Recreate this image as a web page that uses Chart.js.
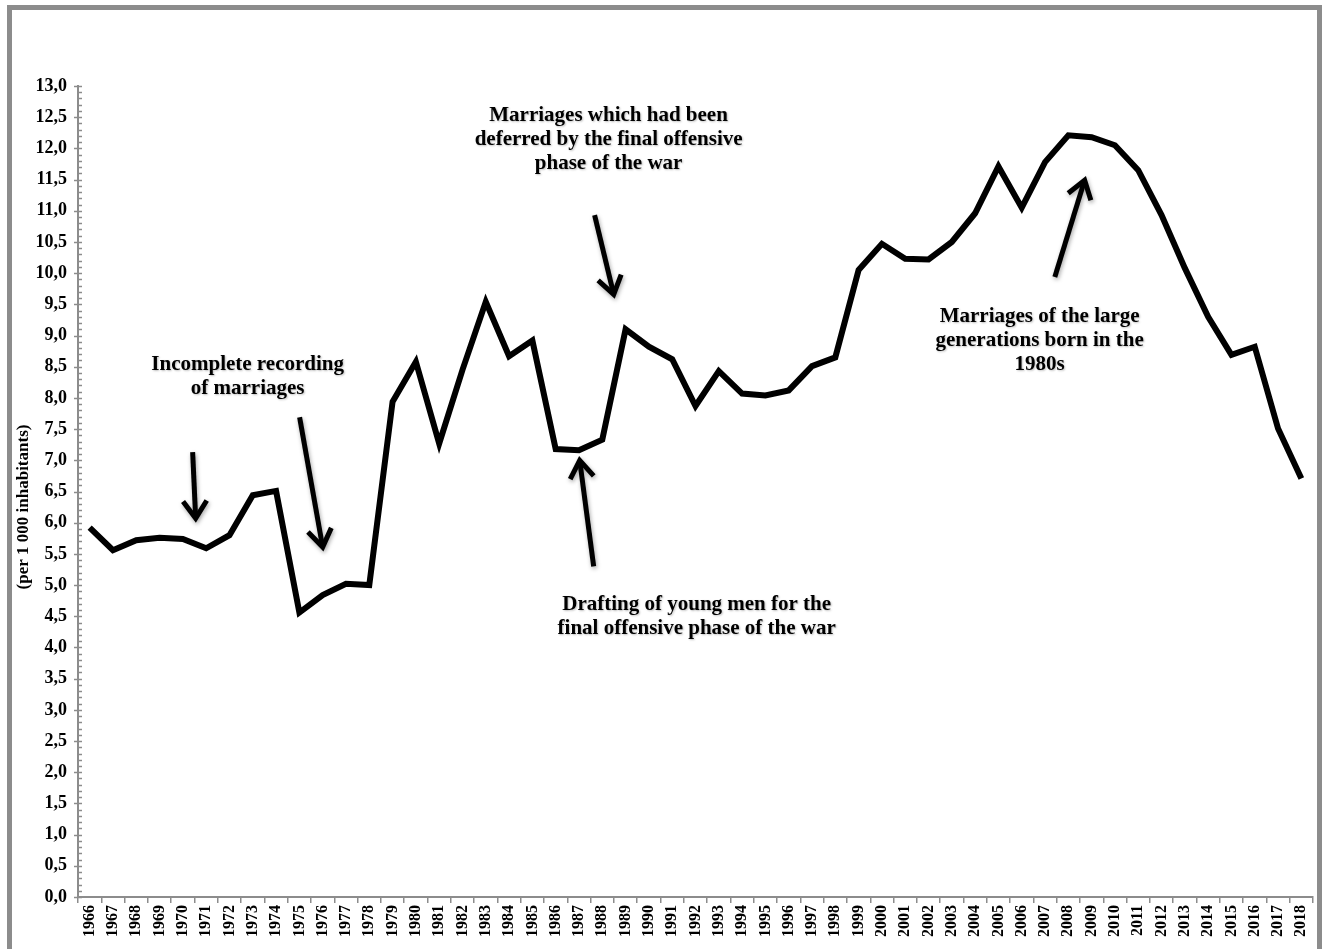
<!DOCTYPE html>
<html>
<head>
<meta charset="utf-8">
<script src="https://cdn.jsdelivr.net/npm/chart.js@4.4.0/dist/chart.umd.min.js"></script>
<style>
    body { margin: 0; background: #fff; overflow: hidden; }
    #wrap { position: relative; width: 1328px; height: 949px; overflow: hidden; }
    #frame { position: absolute; left: 7px; top: 5px; width: 1315px; height: 1000px;
             border: 5px solid #8c8c8c; box-sizing: border-box; }
    #chart { position: absolute; left: 0; top: 0; }
</style>
</head>
<body>
<div id="wrap">
    <div id="frame"></div>
    <canvas id="chart" width="1328" height="949"></canvas>
</div>
<script>
// Crude marriage rate, per 1 000 inhabitants
const years = ['1966', '1967', '1968', '1969', '1970', '1971', '1972', '1973', '1974', '1975',
    '1976', '1977', '1978', '1979', '1980', '1981', '1982', '1983', '1984', '1985',
    '1986', '1987', '1988', '1989', '1990', '1991', '1992', '1993', '1994', '1995',
    '1996', '1997', '1998', '1999', '2000', '2001', '2002', '2003', '2004', '2005',
    '2006', '2007', '2008', '2009', '2010', '2011', '2012', '2013', '2014', '2015',
    '2016', '2017', '2018'];
const rates = [5.92, 5.56, 5.72, 5.76, 5.74, 5.59, 5.80, 6.44, 6.51, 4.56,
    4.84, 5.02, 5.00, 7.94, 8.58, 7.27, 8.45, 9.54, 8.67, 8.92,
    7.18, 7.16, 7.33, 9.10, 8.82, 8.62, 7.87, 8.43, 8.07, 8.04,
    8.12, 8.51, 8.65, 10.05, 10.47, 10.23, 10.22, 10.50, 10.96, 11.71,
    11.05, 11.78, 12.21, 12.18, 12.05, 11.65, 10.93, 10.08, 9.30, 8.69,
    8.82, 7.51, 6.71];
const yAxisTitle = '(per 1 000 inhabitants)';

// notes: x in category index units, y in rate units
const notes = [
    { lines: ['Incomplete recording', 'of marriages'], x: 6.78, y: 8.54 },
    { lines: ['Marriages which had been', 'deferred by the final offensive', 'phase of the war'], x: 22.27, y: 12.52 },
    { lines: ['Drafting of young men for the', 'final offensive phase of the war'], x: 26.05, y: 4.68 },
    { lines: ['Marriages of the large', 'generations born in the', '1980s'], x: 40.77, y: 9.31 }
];
const arrows = [
    { from: [4.42, 7.13], to: [4.55, 6.07] },
    { from: [9.01, 7.69], to: [10.0, 5.61] },
    { from: [21.63, 5.30], to: [21.03, 7.00] },
    { from: [21.67, 10.93], to: [22.49, 9.66] },
    { from: [41.42, 9.94], to: [42.70, 11.49] }
];

const serif = '"Liberation Serif", "Times New Roman", serif';
const axisGrey = '#8c8c8c';

const extras = {
    id: 'extras',
    afterDraw(chart) {
        const ctx = chart.ctx;
        const xs = chart.scales.x, ys = chart.scales.y;
        const ax = xs.left;
        ctx.save();
        // y ticks: major cross the axis, minor on the inside
        ctx.strokeStyle = axisGrey;
        ctx.lineWidth = 1.5;
        for (let i = 0; i <= 130; i++) {
            const py = Math.round(ys.getPixelForValue(i / 10)) + 0.5;
            ctx.beginPath();
            if (i % 5 === 0) { ctx.moveTo(ax - 4, py); ctx.lineTo(ax + 4, py); }
            else { ctx.moveTo(ax, py); ctx.lineTo(ax + 4, py); }
            ctx.stroke();
        }
        // y title
        ctx.fillStyle = '#000';
        ctx.font = 'bold 17px ' + serif;
        ctx.textAlign = 'center';
        ctx.textBaseline = 'middle';
        ctx.save();
        ctx.translate(24, 507);
        ctx.rotate(-Math.PI / 2);
        ctx.fillText(yAxisTitle, 0, 0);
        ctx.restore();
        // arrows
        ctx.strokeStyle = '#000';
        ctx.lineWidth = 5;
        ctx.lineCap = 'butt';
        ctx.lineJoin = 'miter';
        ctx.shadowColor = 'rgba(0,0,0,0.35)';
        ctx.shadowBlur = 4;
        ctx.shadowOffsetX = 1;
        ctx.shadowOffsetY = 2;
        arrows.forEach(a => {
            const x1 = xs.getPixelForValue(a.from[0]), y1 = ys.getPixelForValue(a.from[1]);
            const x2 = xs.getPixelForValue(a.to[0]), y2 = ys.getPixelForValue(a.to[1]);
            const ang = Math.atan2(y2 - y1, x2 - x1);
            const hl = 21, spread = 0.6;
            ctx.beginPath();
            ctx.moveTo(x1, y1);
            ctx.lineTo(x2 - Math.cos(ang) * 3, y2 - Math.sin(ang) * 3);
            ctx.stroke();
            ctx.beginPath();
            ctx.moveTo(x2 - hl * Math.cos(ang - spread), y2 - hl * Math.sin(ang - spread));
            ctx.lineTo(x2, y2);
            ctx.lineTo(x2 - hl * Math.cos(ang + spread), y2 - hl * Math.sin(ang + spread));
            ctx.stroke();
        });
        // notes
        ctx.shadowColor = 'rgba(0,0,0,0.25)';
        ctx.shadowBlur = 2;
        ctx.shadowOffsetX = 1;
        ctx.shadowOffsetY = 1;
        ctx.font = 'bold 21px ' + serif;
        notes.forEach(n => {
            const px = xs.getPixelForValue(n.x), py = ys.getPixelForValue(n.y);
            n.lines.forEach((t, k) => ctx.fillText(t, px, py + k * 24));
        });
        ctx.restore();
    }
};

new Chart(document.getElementById('chart'), {
    type: 'line',
    data: {
        labels: years,
        datasets: [{
            data: rates,
            borderColor: '#000',
            borderWidth: 6,
            pointRadius: 0,
            tension: 0,
            fill: false,
            clip: false
        }]
    },
    options: {
        responsive: false,
        animation: false,
        events: [],
        layout: { padding: { top: 86, right: 15, bottom: 0, left: 0 } },
        plugins: { legend: { display: false }, tooltip: { enabled: false } },
        scales: {
            x: {
                offset: true,
                afterFit: s => { s.height = 52; },
                grid: { offset: true, drawOnChartArea: false, drawTicks: true, tickLength: 6, color: axisGrey, lineWidth: 1.5 },
                border: { color: axisGrey, width: 2 },
                ticks: {
                    autoSkip: false, minRotation: 90, maxRotation: 90, padding: 2,
                    color: '#000', font: { family: serif, size: 16, weight: 'bold' }
                }
            },
            y: {
                min: 0, max: 13,
                afterFit: s => { s.width = 78; },
                grid: { drawOnChartArea: false, drawTicks: false },
                border: { color: axisGrey, width: 2 },
                ticks: {
                    stepSize: 0.5, padding: 11, color: '#000',
                    font: { family: serif, size: 18, weight: 'bold' },
                    callback: v => v.toFixed(1).replace('.', ',')
                }
            }
        }
    },
    plugins: [extras]
});
</script>
</body>
</html>
